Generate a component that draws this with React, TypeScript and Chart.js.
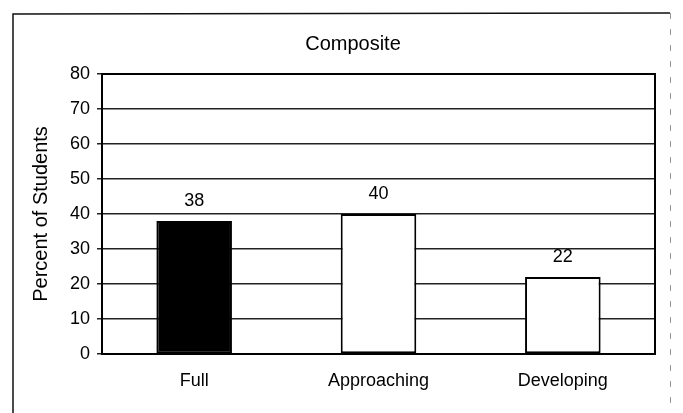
import React, { useEffect, useRef } from "react";
import { Chart, registerables } from "chart.js";

Chart.register(...registerables);

const categories = ["Full", "Approaching", "Developing"];
const values = [38, 40, 22];
const barColors = ["#000000", "#ffffff", "#ffffff"];
const yTicks = [0, 10, 20, 30, 40, 50, 60, 70, 80];
const chartTitle = "Composite";
const yTitle = "Percent of Students";

const FONT = "'Liberation Sans', Arial, Helvetica, sans-serif";

export default function App() {
  const ref = useRef<HTMLCanvasElement | null>(null);

  useEffect(() => {
    const canvas = ref.current;
    if (!canvas) return;

    const framePlugin = {
      id: "frame",
      beforeDraw(chart: any) {
        const ctx = chart.ctx;
        ctx.save();
        ctx.fillStyle = "#ffffff";
        ctx.fillRect(0, 0, chart.width, chart.height);
        ctx.strokeStyle = "#111";
        ctx.lineWidth = 1.5;
        ctx.beginPath();
        ctx.moveTo(13, 413);
        ctx.lineTo(13, 14);
        ctx.lineTo(670, 13);
        ctx.stroke();
        ctx.strokeStyle = "#999";
        ctx.lineWidth = 1;
        ctx.setLineDash([6, 10]);
        ctx.beginPath();
        ctx.moveTo(670.5, 13);
        ctx.lineTo(670.5, 413);
        ctx.stroke();
        ctx.setLineDash([]);
        ctx.fillStyle = "#000";
        ctx.font = "20px " + FONT;
        ctx.textAlign = "center";
        ctx.textBaseline = "middle";
        ctx.fillText(chartTitle, 353, 44);
        ctx.restore();
      },
      afterDatasetsDraw(chart: any) {
        const ctx = chart.ctx;
        const a = chart.chartArea;
        ctx.save();
        ctx.strokeStyle = "#000";
        ctx.lineWidth = 2;
        ctx.strokeRect(a.left, a.top, a.right - a.left, a.bottom - a.top);
        const meta = chart.getDatasetMeta(0);
        ctx.fillStyle = "#000";
        ctx.font = "18px " + FONT;
        ctx.textAlign = "center";
        ctx.textBaseline = "bottom";
        meta.data.forEach((el: any, i: number) => {
          ctx.fillText(String(values[i]), el.x, el.y - 11);
        });
        ctx.restore();
      },
    };

    const chart = new Chart(canvas, {
      type: "bar",
      data: {
        labels: categories,
        datasets: [
          {
            data: values,
            backgroundColor: barColors,
            borderColor: "#000",
            borderWidth: 2,
            borderSkipped: false,
            barPercentage: 1,
            categoryPercentage: 0.41,
          },
        ],
      },
      options: {
        responsive: false,
        animation: false,
        layout: { padding: { left: 0, right: 28, top: 74, bottom: 0 } },
        plugins: {
          legend: { display: false },
          tooltip: { enabled: false },
          title: { display: false },
        },
        scales: {
          x: {
            afterFit: (s: any) => {
              s.height = 59;
            },
            grid: { display: false, drawTicks: false },
            border: { display: true, color: "#000", width: 2 },
            ticks: {
              padding: 16,
              color: "#000",
              font: { family: FONT, size: 18 },
              autoSkip: false,
              maxRotation: 0,
            },
          },
          y: {
            min: 0,
            max: 80,
            afterBuildTicks: (s: any) => {
              s.ticks = yTicks.map((v) => ({ value: v }));
            },
            afterFit: (s: any) => {
              s.width = 102;
            },
            grid: { color: "#222", lineWidth: 1.5, tickLength: 5, drawTicks: true },
            border: { display: true, color: "#000", width: 2 },
            ticks: {
              padding: 7,
              color: "#000",
              font: { family: FONT, size: 18 },
            },
            title: {
              display: true,
              text: yTitle,
              color: "#000",
              font: { family: FONT, size: 20 },
              padding: { top: 29, bottom: 0 },
            },
          },
        },
      },
      plugins: [framePlugin],
    } as any);

    return () => chart.destroy();
  }, []);

  return (
    <div style={{ position: "fixed", left: 0, top: 0, width: 683, height: 413 }}>
      <canvas ref={ref} width={683} height={413} style={{ display: "block" }} />
    </div>
  );
}
